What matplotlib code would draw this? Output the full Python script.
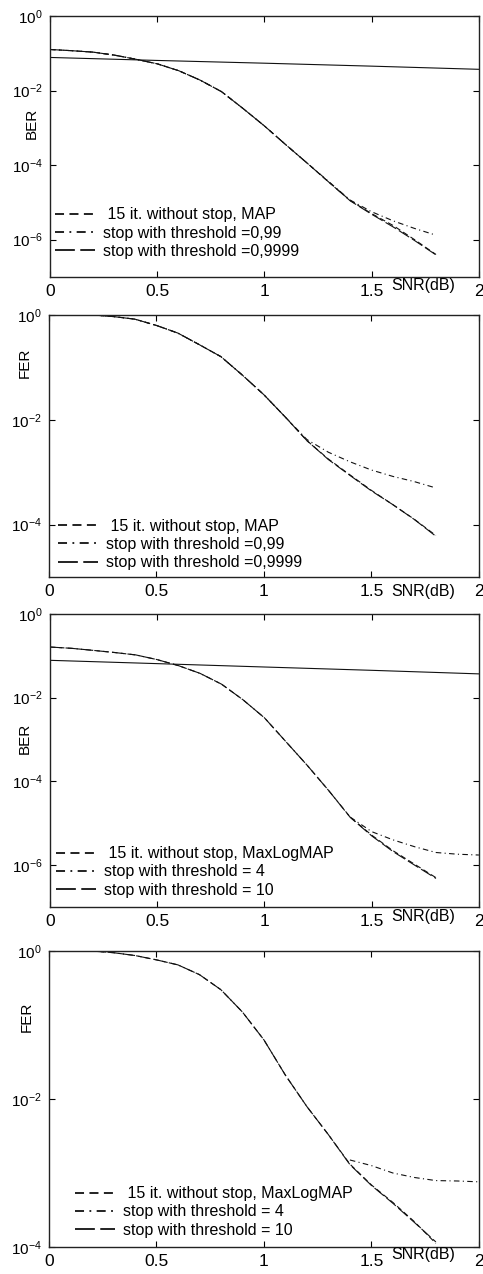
import matplotlib
matplotlib.use('Agg')
import matplotlib.pyplot as plt
from matplotlib.ticker import FixedLocator, NullLocator

plt.rcParams['font.family'] = ['Liberation Sans', 'DejaVu Sans']
plt.rcParams['font.size'] = 11

# --- data ---
snr = [0.0, 0.1, 0.2, 0.3, 0.4, 0.5, 0.6, 0.7, 0.8, 0.9,
       1.0, 1.1, 1.2, 1.3, 1.4, 1.5, 1.6, 1.7, 1.8]
snr_fer = [0.2, 0.3, 0.4, 0.5, 0.6, 0.7, 0.8, 0.9,
           1.0, 1.1, 1.2, 1.3, 1.4, 1.5, 1.6, 1.7, 1.8]
snr_tail = [1.4, 1.5, 1.6, 1.7, 1.8, 1.9, 2.0]
snr_flat = [0.0, 0.5, 1.0, 1.5, 2.0]

# panel 1: BER, MAP
ber_map_nostop = [1.26e-1, 1.17e-1, 1.07e-1, 8.9e-2, 6.9e-2, 5.2e-2, 3.4e-2, 1.9e-2, 9.3e-3, 3.3e-3,
                  1.12e-3, 3.5e-4, 1.12e-4, 3.5e-5, 1.12e-5, 5.0e-6, 2.4e-6, 1.0e-6, 4.0e-7]
ber_map_t099 = [1.26e-1, 1.17e-1, 1.07e-1, 8.9e-2, 6.9e-2, 5.2e-2, 3.4e-2, 1.9e-2, 9.3e-3, 3.3e-3,
                1.12e-3, 3.5e-4, 1.12e-4, 3.6e-5, 1.15e-5, 5.6e-6, 3.2e-6, 2.0e-6, 1.32e-6]
ber_map_t9999 = [1.26e-1, 1.17e-1, 1.07e-1, 8.9e-2, 6.9e-2, 5.2e-2, 3.4e-2, 1.9e-2, 9.3e-3, 3.3e-3,
                 1.12e-3, 3.5e-4, 1.12e-4, 3.5e-5, 1.1e-5, 4.8e-6, 2.2e-6, 9.5e-7, 3.9e-7]
ber_map_flat = [7.7e-2, 6.4e-2, 5.4e-2, 4.5e-2, 3.7e-2]

# panel 2: FER, MAP
fer_map_nostop = [1.0, 0.93, 0.83, 0.63, 0.45, 0.27, 0.16, 7.1e-2,
                  3.0e-2, 1.12e-2, 4.0e-3, 1.78e-3, 8.9e-4, 4.5e-4, 2.4e-4, 1.26e-4, 6.2e-5]
fer_map_t099 = [1.0, 0.93, 0.83, 0.63, 0.45, 0.27, 0.16, 7.1e-2,
                3.0e-2, 1.12e-2, 4.2e-3, 2.4e-3, 1.58e-3, 1.10e-3, 8.3e-4, 6.6e-4, 5.0e-4]
fer_map_t9999 = [1.0, 0.93, 0.83, 0.63, 0.45, 0.27, 0.16, 7.1e-2,
                 3.0e-2, 1.12e-2, 4.0e-3, 1.74e-3, 8.7e-4, 4.4e-4, 2.4e-4, 1.25e-4, 6.0e-5]

# panel 3: BER, MaxLogMAP
ber_mlm_nostop = [1.62e-1, 1.51e-1, 1.35e-1, 1.20e-1, 1.05e-1, 8.1e-2, 5.8e-2, 3.8e-2, 2.1e-2, 8.9e-3,
                  3.3e-3, 8.9e-4, 2.4e-4, 6.0e-5, 1.4e-5, 5.2e-6, 2.2e-6, 1.05e-6, 5.0e-7]
ber_mlm_t4 = [1.4e-5, 6.3e-6, 4.0e-6, 2.75e-6, 2.0e-6, 1.82e-6, 1.74e-6]
ber_mlm_t10 = [1.62e-1, 1.51e-1, 1.35e-1, 1.20e-1, 1.05e-1, 8.1e-2, 5.8e-2, 3.8e-2, 2.1e-2, 8.9e-3,
               3.3e-3, 8.9e-4, 2.4e-4, 6.0e-5, 1.38e-5, 5.0e-6, 2.1e-6, 1.0e-6, 4.8e-7]
ber_mlm_flat = [7.8e-2, 6.5e-2, 5.4e-2, 4.5e-2, 3.7e-2]

# panel 4: FER, MaxLogMAP
fer_mlm_nostop = [1.0, 0.95, 0.87, 0.76, 0.65, 0.48, 0.30, 0.15,
                  6.3e-2, 2.1e-2, 7.9e-3, 3.3e-3, 1.32e-3, 6.9e-4, 4.0e-4, 2.2e-4, 1.12e-4]
fer_mlm_t4 = [1.5e-3, 1.26e-3, 1.0e-3, 8.7e-4, 7.9e-4, 7.8e-4, 7.6e-4]
fer_mlm_t10 = [1.0, 0.95, 0.87, 0.76, 0.65, 0.48, 0.30, 0.15,
               6.3e-2, 2.1e-2, 7.9e-3, 3.3e-3, 1.3e-3, 6.8e-4, 3.9e-4, 2.15e-4, 1.17e-4]

labels_map = [' 15 it. without stop, MAP', 'stop with threshold =0,99', 'stop with threshold =0,9999']
labels_mlm = [' 15 it. without stop, MaxLogMAP', 'stop with threshold = 4', 'stop with threshold = 10']

x_ticks = [0, 0.5, 1, 1.5, 2]
x_ticklabels = ['0', '0.5', '1', '1.5', '2']

DASH = (0, (5, 3))
DASHDOT = (0, (5, 3, 1, 3))
LONGDASH = (0, (11, 3))


def setup_axes(rect, ymin_exp, yticks_exp, ylabel, ylabel_pos, snr_y):
    ax = fig.add_axes(rect)
    ax.set_yscale('log')
    ax.set_xlim(0, 2)
    ax.set_ylim(10.0 ** ymin_exp, 1)
    ax.xaxis.set_major_locator(FixedLocator(x_ticks))
    ax.set_xticklabels(x_ticklabels, fontsize=12.5)
    ax.yaxis.set_major_locator(FixedLocator([10.0 ** e for e in yticks_exp]))
    ax.set_yticklabels([r'$\mathregular{10^{%d}}$' % e for e in yticks_exp], fontsize=11)
    ax.yaxis.set_minor_locator(NullLocator())
    ax.tick_params(direction='in', length=4, width=0.8, top=True, right=True, pad=5)
    ax.tick_params(axis='x', pad=5)
    for sp in ax.spines.values():
        sp.set_linewidth(1.0)
        sp.set_color('#222222')
    ax.text(ylabel_pos[0], ylabel_pos[1], ylabel, rotation=90, transform=ax.transAxes,
            ha='center', va='center', fontsize=11)
    ax.text(1.74, snr_y, 'SNR(dB)', transform=ax.get_xaxis_transform(),
            ha='center', va='center', fontsize=11.5)
    return ax


def add_legend(ax, labels, anchor):
    leg = ax.legend(labels=labels, handles=ax.get_lines()[:3], loc='lower left',
                    bbox_to_anchor=anchor, frameon=False, borderpad=0, borderaxespad=0,
                    handlelength=2.5, handletextpad=0.5, labelspacing=0.2, fontsize=11.5)
    for ln in leg.get_lines():
        ln.set_linewidth(1.3)


fig = plt.figure(figsize=(4.83, 12.74), dpi=100)
lc = '#111111'
lw = 0.8

# panel 1
ax1 = setup_axes([0.1035, 0.7826, 0.888, 0.2049], -7, [0, -2, -4, -6], 'BER', (-0.042, 0.59), -0.031)
ax1.plot(snr, ber_map_nostop, color=lc, lw=lw, linestyle=DASH)
ax1.plot(snr, ber_map_t099, color=lc, lw=lw, linestyle=DASHDOT)
ax1.plot(snr, ber_map_t9999, color=lc, lw=lw, linestyle=LONGDASH)
ax1.plot(snr_flat, ber_map_flat, color=lc, lw=lw)
add_legend(ax1, labels_map, (0.012, 0.07))

# panel 2
ax2 = setup_axes([0.1014, 0.5471, 0.890, 0.2057], -5, [0, -2, -4], 'FER', (-0.056, 0.817), -0.057)
ax2.plot(snr_fer, fer_map_nostop, color=lc, lw=lw, linestyle=DASH)
ax2.plot(snr_fer, fer_map_t099, color=lc, lw=lw, linestyle=DASHDOT)
ax2.plot(snr_fer, fer_map_t9999, color=lc, lw=lw, linestyle=LONGDASH)
add_legend(ax2, labels_map, (0.021, 0.026))

# panel 3
ax3 = setup_axes([0.1035, 0.2881, 0.888, 0.230], -7, [0, -2, -4, -6], 'BER', (-0.058, 0.577), -0.034)
ax3.plot(snr, ber_mlm_nostop, color=lc, lw=lw, linestyle=DASH)
ax3.plot(snr_tail, ber_mlm_t4, color=lc, lw=lw, linestyle=DASHDOT)
ax3.plot(snr, ber_mlm_t10, color=lc, lw=lw, linestyle=LONGDASH)
ax3.plot(snr_flat, ber_mlm_flat, color=lc, lw=lw)
add_legend(ax3, labels_mlm, (0.014, 0.032))

# panel 4
ax4 = setup_axes([0.1014, 0.0212, 0.890, 0.2323], -4, [0, -2, -4], 'FER', (-0.051, 0.777), -0.027)
ax4.plot(snr_fer, fer_mlm_nostop, color=lc, lw=lw, linestyle=DASH)
ax4.plot(snr_tail, fer_mlm_t4, color=lc, lw=lw, linestyle=DASHDOT)
ax4.plot(snr_fer, fer_mlm_t10, color=lc, lw=lw, linestyle=LONGDASH)
add_legend(ax4, labels_mlm, (0.06, 0.032))

fig.savefig('out.png', dpi=100)
